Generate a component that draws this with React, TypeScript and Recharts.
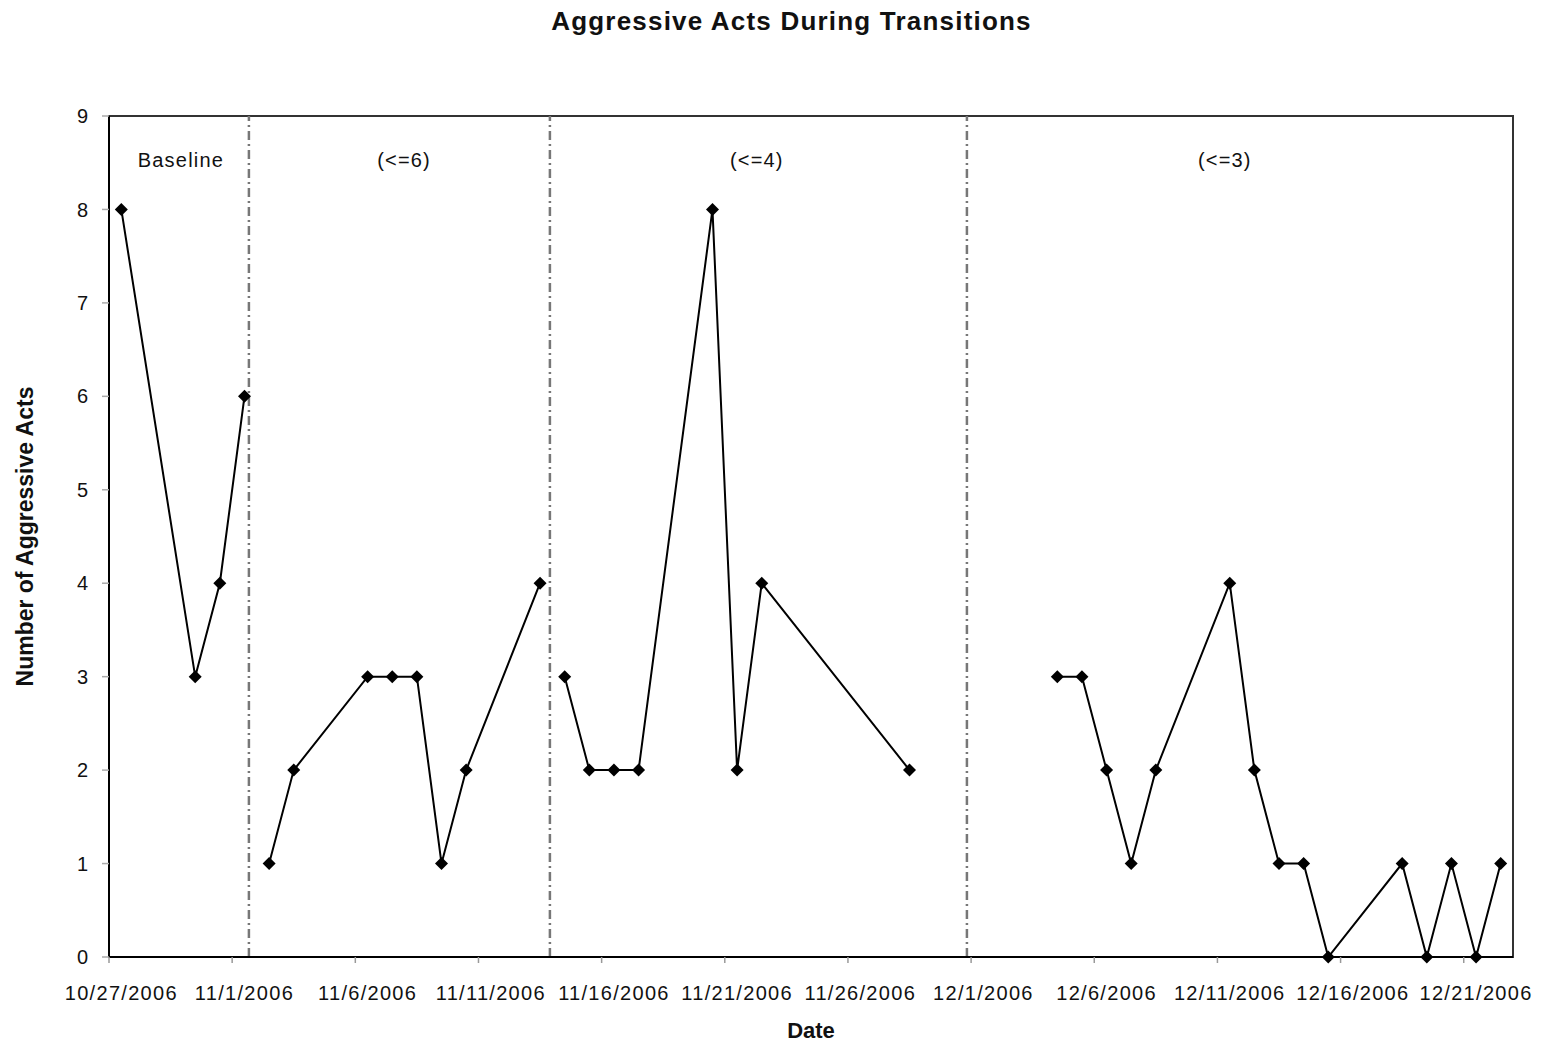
import React from "react"
import {
  ComposedChart,
  Scatter,
  XAxis,
  YAxis,
  ReferenceLine,
  ReferenceArea,
  ReferenceDot,
} from "recharts"

const START = "10/27/2006"
const TOTAL_DAYS = 57

const baselineDates = ["10/27/2006", "10/30/2006", "10/31/2006", "11/1/2006"]
const baselineValues = [8, 3, 4, 6]

const phase6Dates = ["11/2/2006", "11/3/2006", "11/6/2006", "11/7/2006", "11/8/2006", "11/9/2006", "11/10/2006", "11/13/2006"]
const phase6Values = [1, 2, 3, 3, 3, 1, 2, 4]

const phase4Dates = ["11/14/2006", "11/15/2006", "11/16/2006", "11/17/2006", "11/20/2006", "11/21/2006", "11/22/2006", "11/28/2006"]
const phase4Values = [3, 2, 2, 2, 8, 2, 4, 2]

const phase3Dates = [
  "12/4/2006", "12/5/2006", "12/6/2006", "12/7/2006", "12/8/2006", "12/11/2006", "12/12/2006", "12/13/2006",
  "12/14/2006", "12/15/2006", "12/18/2006", "12/19/2006", "12/20/2006", "12/21/2006", "12/22/2006",
]
const phase3Values = [3, 3, 2, 1, 2, 4, 2, 1, 1, 0, 1, 0, 1, 0, 1]

const tickLabels = [
  "10/27/2006", "11/1/2006", "11/6/2006", "11/11/2006", "11/16/2006", "11/21/2006",
  "11/26/2006", "12/1/2006", "12/6/2006", "12/11/2006", "12/16/2006", "12/21/2006",
]
const yTicks = [0, 1, 2, 3, 4, 5, 6, 7, 8, 9]

// phase change lines (in days from start) and phase titles
const phaseLines = [5.68, 17.9, 34.83]
const phaseTitles = ["Baseline", "(<=6)", "(<=4)", "(<=3)"]
const phaseTitleX = [2.92, 11.98, 26.3, 45.3]

const W = 1541
const H = 1042
const M = { top: 116, right: 28, bottom: 0, left: 0 }
const Y_AXIS_W = 109
const PLOT_W = W - Y_AXIS_W - M.right
const HALF_DAY = PLOT_W / TOTAL_DAYS / 2

const dayOf = (s: string) => {
  const [m, d, y] = s.split("/").map(Number)
  const [m0, d0, y0] = START.split("/").map(Number)
  return (Date.UTC(y, m - 1, d) - Date.UTC(y0, m0 - 1, d0)) / 86400000
}

const toSeries = (dates: string[], values: number[]) =>
  dates.map((d, i) => ({ x: dayOf(d) + 0.5, y: values[i] }))

const series = [
  toSeries(baselineDates, baselineValues),
  toSeries(phase6Dates, phase6Values),
  toSeries(phase4Dates, phase4Values),
  toSeries(phase3Dates, phase3Values),
]

const tickPositions = tickLabels.map((t) => dayOf(t) + 0.5)

const FONT = "'Liberation Sans', Arial, Helvetica, sans-serif"

const Diamond = ({ cx, cy }: any) => {
  const r = 6.5
  return (
    <polygon
      points={`${cx},${cy - r} ${cx + r},${cy} ${cx},${cy + r} ${cx - r},${cy}`}
      fill="#000"
    />
  )
}

const XTick = ({ x, y, payload }: any) => {
  const i = tickPositions.indexOf(payload.value)
  return (
    <g>
      <line x1={x - HALF_DAY} x2={x - HALF_DAY} y1={y - 28} y2={y - 22} stroke="#999" strokeWidth={1.5} />
      <text x={x} y={y} dy="0.75em" textAnchor="middle" fontSize={20} letterSpacing={1.3} fill="#111" fontFamily={FONT}>
        {tickLabels[i]}
      </text>
    </g>
  )
}

export default function App() {
  return (
    <div style={{ position: "absolute", left: 0, top: 0, width: W, height: H, background: "#fff" }}>
      <div
        style={{
          position: "absolute",
          left: 21,
          top: 6,
          width: W,
          textAlign: "center",
          fontFamily: FONT,
          fontWeight: "bold",
          fontSize: 26,
          letterSpacing: 1.2,
          color: "#111",
        }}
      >
        Aggressive Acts During Transitions
      </div>
      <ComposedChart width={W} height={H} margin={M}>
        <XAxis
          type="number"
          dataKey="x"
          domain={[0, TOTAL_DAYS]}
          ticks={tickPositions}
          tick={<XTick />}
          tickSize={0}
          tickMargin={28}
          height={85}
          axisLine={{ stroke: "#000", strokeWidth: 2 }}
          tickLine={false}
          interval={0}
          allowDataOverflow
          label={{ value: "Date", position: "insideBottom", offset: 4, fontSize: 22, fontWeight: "bold", fill: "#111", fontFamily: FONT }}
        />
        <YAxis
          type="number"
          dataKey="y"
          domain={[0, 9]}
          ticks={yTicks}
          interval={0}
          width={Y_AXIS_W}
          tickSize={7}
          tickMargin={14}
          axisLine={{ stroke: "#000", strokeWidth: 2 }}
          tickLine={{ stroke: "#aaa", strokeWidth: 1.5 }}
          tick={{ fontSize: 20, fill: "#111", fontFamily: FONT }}
          label={{
            value: "Number of Aggressive Acts",
            angle: -90,
            position: "insideLeft",
            offset: 25,
            fontSize: 23,
            fontWeight: "bold",
            fill: "#111",
            fontFamily: FONT,
            style: { textAnchor: "middle" },
          }}
        />
        <ReferenceArea x1={0} x2={TOTAL_DAYS} y1={0} y2={9} fill="none" stroke="#333" strokeWidth={2} />
        {phaseLines.map((p, i) => (
          <ReferenceLine key={`pl-${i}`} x={p} stroke="#777" strokeWidth={2.5} strokeDasharray="9 4 2 4" />
        ))}
        {phaseTitles.map((t, i) => (
          <ReferenceDot
            key={`pt-${i}`}
            x={phaseTitleX[i]}
            y={8.53}
            r={0}
            stroke="none"
            label={{ value: t, position: "center", fontSize: 20, letterSpacing: 1.2, fill: "#111", fontFamily: FONT }}
          />
        ))}
        {series.map((s, i) => (
          <Scatter
            key={`s-${i}`}
            data={s}
            line={{ stroke: "#000", strokeWidth: 2 }}
            lineType="joint"
            shape={<Diamond />}
            isAnimationActive={false}
          />
        ))}
      </ComposedChart>
    </div>
  )
}
